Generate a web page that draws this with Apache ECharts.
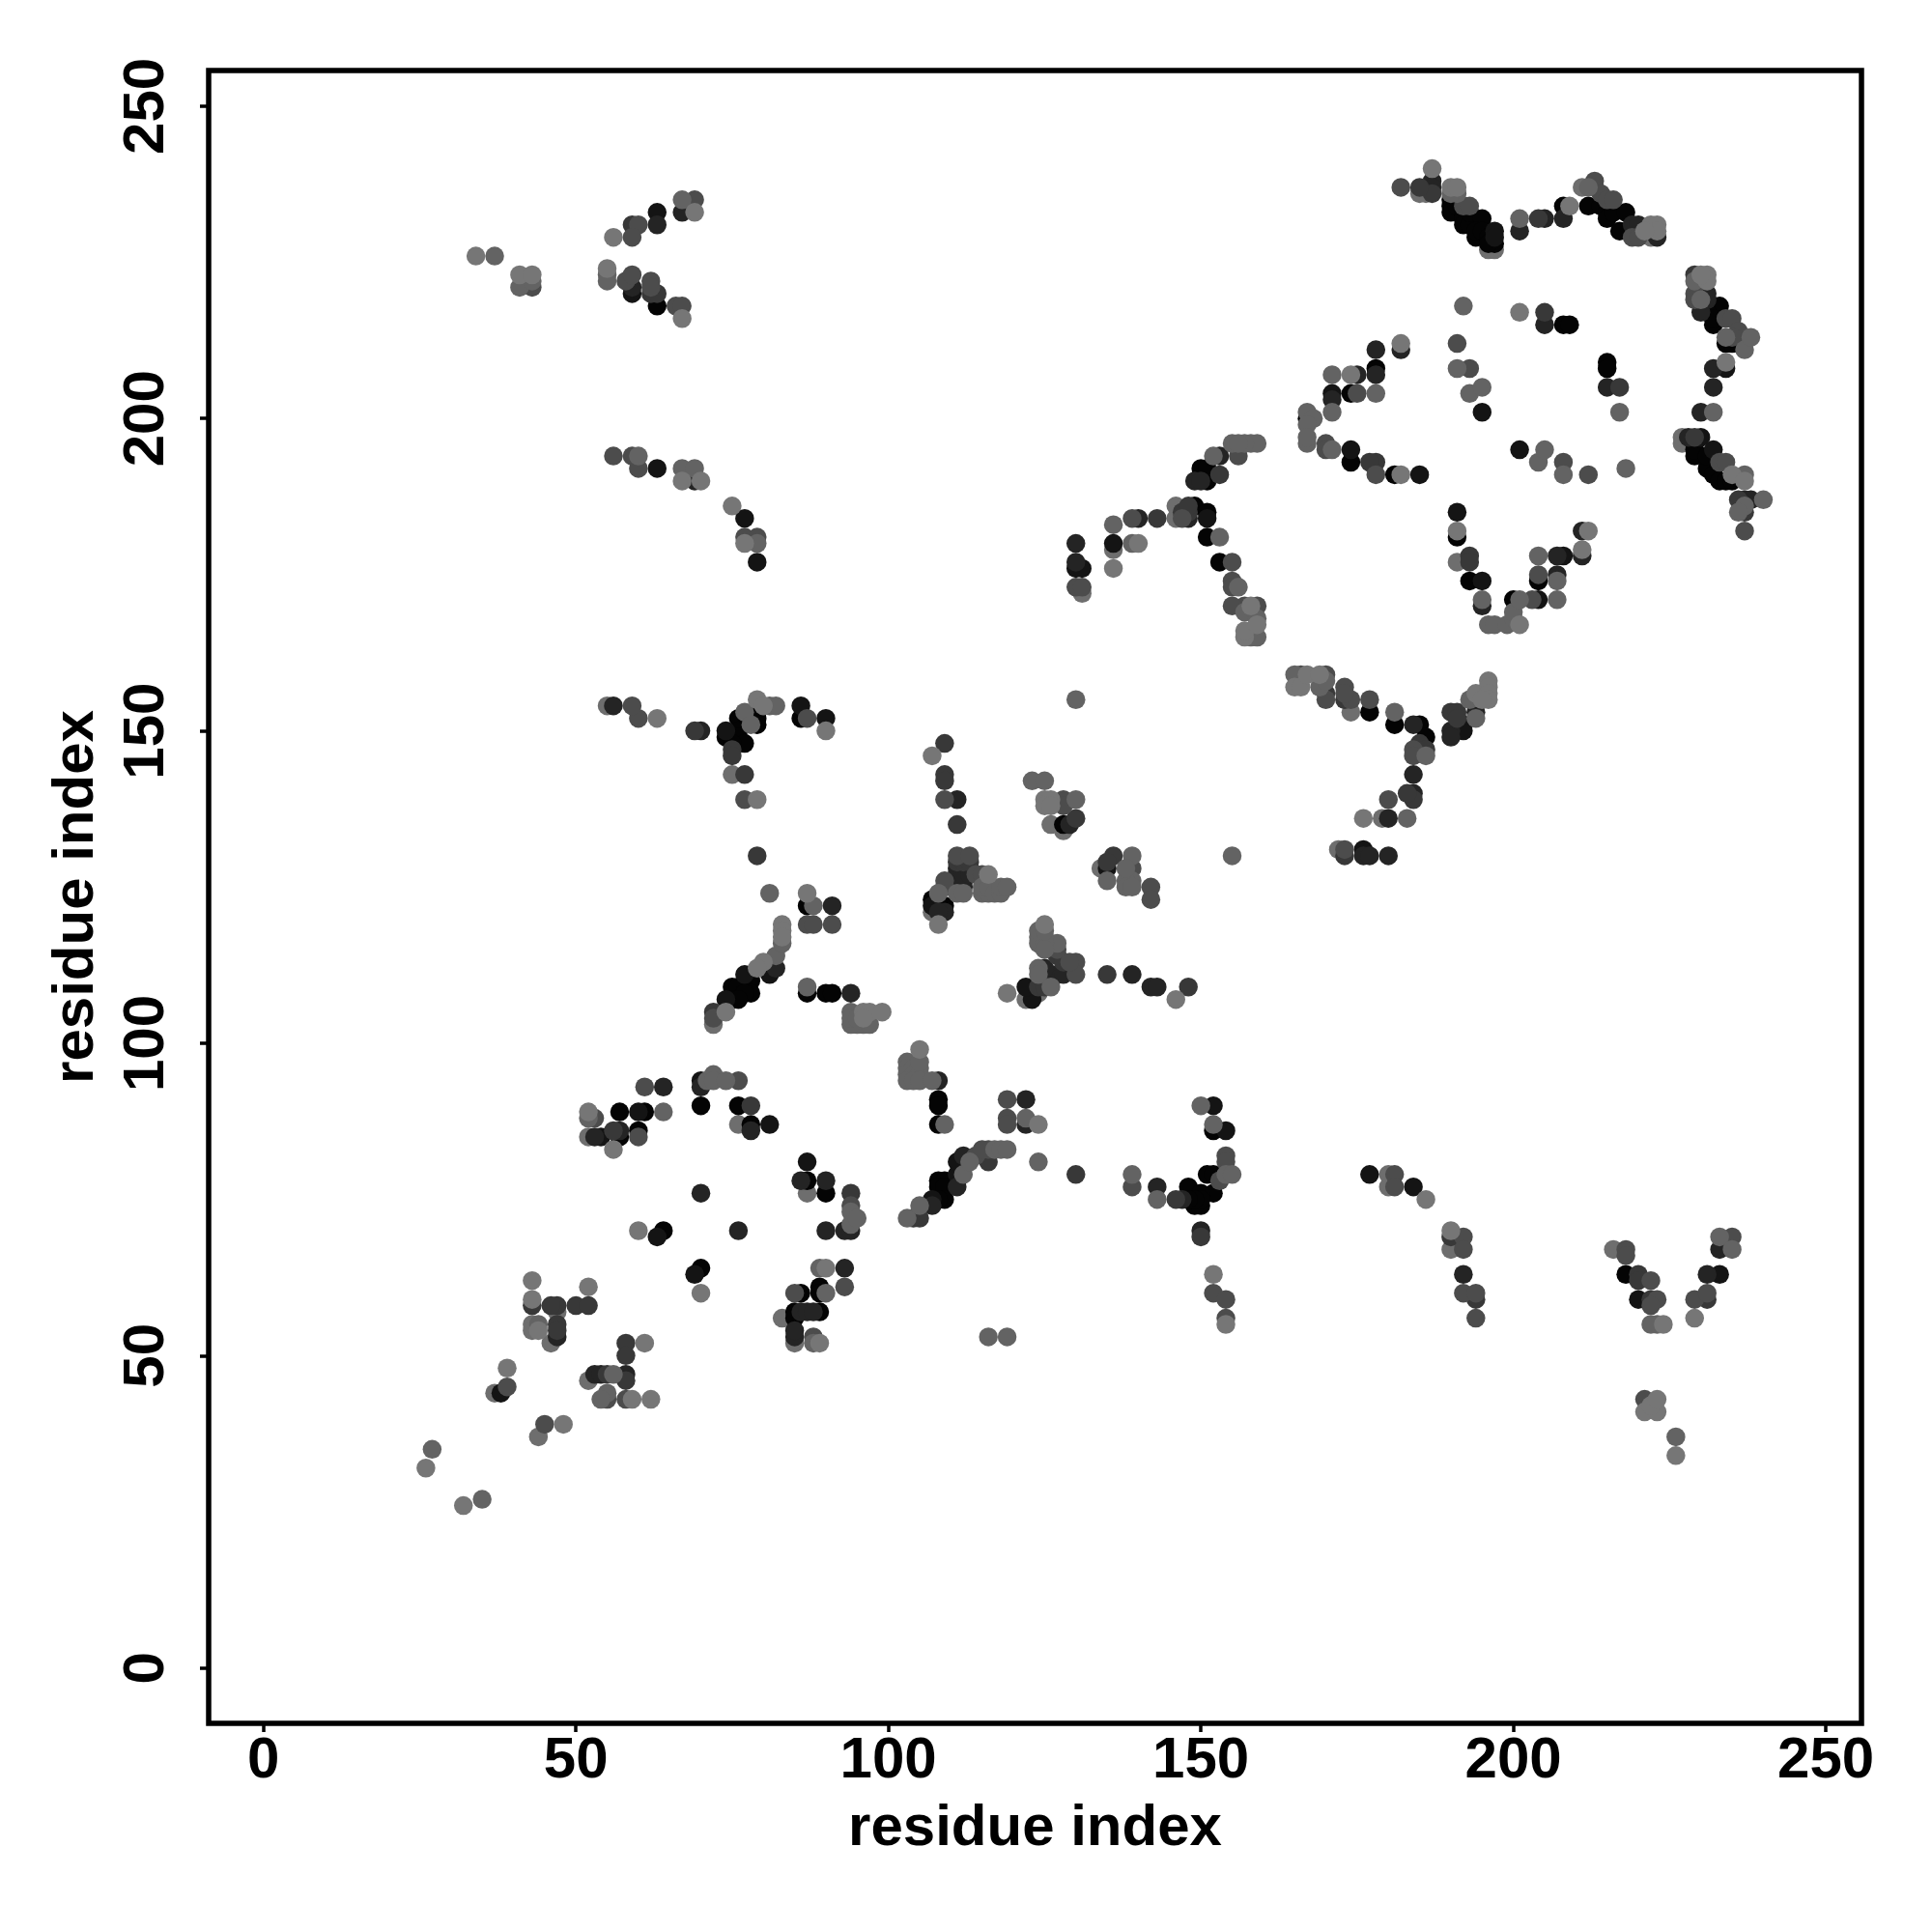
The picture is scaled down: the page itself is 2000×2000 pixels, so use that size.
<!DOCTYPE html>
<html><head><meta charset="utf-8">
<style>html,body{margin:0;padding:0;background:#fff}#c{width:2000px;height:2000px}</style>
<script src="https://cdn.jsdelivr.net/npm/echarts@6/dist/echarts.min.js"></script>
</head><body><div id="c"></div>
<script>
const tickValues=[0,50,100,150,200,250];
const axisTitle='residue index';
const underContacts=[[44,37],[37,44],[52,85],[52,46],[76,87],[55,154],[75,143],[47,57],[46,52],[85,52],[83,56],[87,76],[191,177],[134,128],[107,121],[126,135],[128,134],[124,108],[122,107],[172,131],[136,179],[131,172],[174,153],[146,186],[146,184],[185,236],[186,236],[196,227],[197,227],[222,229],[227,196],[227,197],[216,67],[180,77],[180,79],[179,136],[72,103],[43,55],[43,54],[211,237],[190,67]];
const blackContacts=[[64,70],[87,78],[90,76],[70,64],[89,61],[89,60],[86,60],[85,57],[89,57],[85,56],[78,87],[60,86],[57,85],[61,89],[57,89],[70,90],[76,90],[74,149],[75,149],[76,152],[76,150],[76,149],[77,148],[75,148],[79,153],[79,152],[79,151],[86,152],[87,122],[78,110],[75,109],[76,109],[78,108],[77,108],[75,107],[76,107],[87,108],[90,108],[91,108],[108,91],[108,90],[108,87],[107,123],[109,122],[108,122],[128,135],[151,79],[152,79],[152,76],[150,74],[149,74],[148,77],[150,76],[150,75],[149,75],[148,75],[108,78],[109,78],[108,77],[109,77],[109,75],[108,75],[152,86],[218,63],[174,193],[174,204],[149,186],[150,192],[151,185],[151,190],[151,192],[151,181],[153,177],[193,174],[191,181],[177,153],[181,151],[185,151],[186,149],[167,200],[178,208],[190,235],[190,234],[190,233],[191,234],[192,233],[192,232],[192,231],[193,231],[193,233],[195,232],[194,229],[194,230],[195,230],[196,229],[197,228],[196,228],[208,234],[212,234],[214,234],[215,233],[215,232],[216,233],[218,233],[217,230],[233,218],[231,217],[232,215],[232,216],[234,212],[235,212],[208,215],[209,215],[215,209],[215,208],[200,171],[204,174],[229,194],[229,195],[231,192],[232,191],[233,190],[234,190],[235,190],[231,194],[181,191],[63,218]];
const nearBlackContacts=[[38,44],[63,69],[69,63],[87,81],[81,87],[74,150],[90,152],[86,154],[74,107],[77,111],[81,111],[60,89],[54,85],[107,122],[111,79],[111,81],[107,75],[135,128],[123,107],[122,109],[154,86],[152,90],[177,79],[184,77],[233,63],[220,59],[185,191],[195,201],[191,185],[195,174],[201,195],[192,151],[192,150],[130,176],[131,176],[136,180],[151,184],[176,131],[197,230],[197,229],[230,197],[232,195],[234,208],[208,178],[204,171],[171,204],[174,195],[70,94],[59,220],[77,184],[79,177],[63,233],[63,192]];
const darkContacts=[[70,76],[76,70],[90,70],[93,70],[94,70],[86,78],[90,78],[93,64],[86,57],[87,57],[88,57],[85,53],[85,54],[47,53],[58,47],[53,47],[54,47],[57,86],[78,86],[53,85],[56,154],[70,150],[82,112],[91,122],[94,108],[108,94],[122,91],[122,87],[64,93],[70,93],[111,139],[130,180],[130,177],[139,111],[142,109],[143,109],[143,77],[147,75],[150,70],[112,82],[111,77],[107,74],[109,121],[108,121],[111,126],[112,126],[112,125],[125,111],[127,111],[128,111],[125,112],[192,63],[231,63],[233,67],[180,136],[176,130],[177,130],[180,130],[184,151],[184,140],[184,143],[190,150],[190,149],[194,153],[149,190],[150,190],[153,194],[140,184],[148,184],[187,238],[187,237],[205,232],[208,232],[201,230],[219,231],[220,231],[223,229],[231,220],[231,219],[230,217],[232,208],[232,205],[230,201],[205,215],[215,205],[211,182],[211,178],[207,178],[207,175],[178,207],[171,203],[175,207],[182,211],[178,211],[228,197],[195,170],[237,187],[238,187],[129,135],[59,221],[63,231],[67,233],[69,190],[111,128],[112,128],[113,128],[111,127],[112,127],[113,127]];
const deepContacts=[[47,55],[47,54],[58,52],[58,50],[58,46],[55,47],[50,58],[52,58],[47,58],[46,58],[43,58],[56,86],[78,90],[69,150],[75,147],[75,146],[77,143],[72,105],[79,130],[109,148],[109,143],[109,142],[111,135],[127,114],[128,113],[130,136],[136,130],[135,129],[124,109],[125,109],[135,111],[148,109],[146,75],[130,79],[104,72],[105,72],[116,81],[94,76],[220,63],[220,62],[222,59],[194,59],[190,69],[231,59],[150,69],[193,178],[193,177],[184,139],[183,140],[185,148],[186,147],[173,130],[173,155],[170,156],[143,184],[147,185],[148,185],[148,186],[153,191],[187,236],[185,237],[205,217],[217,205],[229,223],[229,197],[178,193],[177,193],[237,185],[236,187],[204,232],[59,231],[62,220],[63,220],[111,129],[112,129],[113,129],[190,153],[191,153],[191,152]];
const midContacts=[[45,39],[39,45],[93,61],[85,60],[88,53],[60,85],[58,43],[55,43],[53,88],[72,104],[60,152],[77,139],[87,119],[88,119],[119,88],[119,87],[109,139],[59,154],[87,152],[61,93],[76,94],[91,119],[94,74],[130,173],[131,173],[139,184],[147,184],[155,177],[155,174],[155,173],[157,170],[159,170],[155,170],[175,204],[170,196],[170,195],[178,191],[191,212],[193,208],[229,220],[229,219],[212,191],[182,237],[192,60],[194,60],[194,56],[192,69],[192,67],[218,67],[218,66],[222,62],[223,59],[229,59],[231,60],[222,58],[235,69],[221,43],[181,79],[181,77],[152,60],[154,59],[154,56],[116,83],[114,82],[115,83],[109,125],[109,126],[111,130],[113,130],[114,127],[115,127],[130,113],[130,111],[128,139],[128,138],[129,113],[127,115],[142,125],[142,123],[139,128],[139,77],[154,82],[154,81],[153,78],[177,155],[174,155],[173,157],[173,156],[170,155],[170,159],[166,159],[184,147],[184,146],[180,139],[173,131],[208,193],[204,175],[203,171],[237,182],[234,216],[235,216],[236,214],[237,213],[235,213],[192,234],[193,234],[213,238],[213,237],[214,236],[215,235],[216,235],[219,229],[220,229],[233,193],[234,193],[156,194],[119,91],[60,231],[59,229],[58,222],[59,223],[62,222],[62,221],[66,218],[67,218],[43,221],[69,235],[56,194],[59,194],[60,192],[77,181],[79,181]];
const greyContacts=[[27,35],[35,27],[81,124],[88,122],[81,154],[82,154],[77,153],[78,151],[82,114],[83,116],[123,142],[125,142],[130,139],[130,155],[155,130],[124,81],[109,87],[122,88],[139,126],[138,126],[138,125],[139,125],[139,130],[138,128],[135,126],[111,124],[112,124],[115,124],[116,124],[115,125],[116,125],[117,124],[118,124],[118,125],[119,125],[124,112],[124,111],[126,109],[127,116],[96,103],[95,103],[97,103],[94,103],[94,105],[94,104],[95,104],[103,97],[103,96],[104,96],[105,96],[103,95],[104,95],[105,95],[103,94],[104,94],[105,94],[105,97],[107,94],[108,124],[71,94],[72,95],[72,94],[74,94],[64,89],[87,109],[124,117],[125,117],[124,116],[125,116],[125,115],[124,118],[125,118],[103,72],[105,74],[112,79],[113,81],[117,83],[118,83],[119,83],[139,79],[143,75],[150,90],[152,87],[154,79],[155,79],[44,55],[55,44],[54,43],[56,47],[89,64],[90,60],[94,73],[94,71],[95,72],[88,52],[52,88],[116,53],[119,53],[192,218],[191,208],[193,204],[195,205],[204,178],[207,174],[207,171],[208,191],[218,192],[217,201],[232,201],[237,191],[237,186],[236,185],[240,187],[234,213],[237,211],[238,213],[230,219],[229,222],[226,37],[233,69],[235,67],[223,55],[222,55],[167,201],[168,200],[167,199],[171,201],[171,195],[165,159],[169,157],[170,158],[167,196],[167,197],[178,204],[171,207],[181,153],[183,136],[186,146],[193,155],[194,152],[195,171],[196,167],[197,167],[199,167],[200,168],[200,169],[157,169],[153,181],[156,173],[158,165],[159,168],[159,165],[158,196],[159,196],[157,196],[155,196],[156,196],[152,194],[201,232],[204,193],[205,195],[191,236],[190,236],[212,237],[136,183],[139,180],[37,226],[41,221],[43,222],[55,223],[55,222],[67,235],[60,194],[67,192],[69,192],[79,180],[201,171]];
const lightContacts=[[26,32],[32,26],[48,39],[39,48],[43,62],[43,59],[44,54],[52,61],[59,43],[62,43],[56,83],[60,70],[61,52],[70,60],[90,64],[89,52],[63,152],[79,139],[79,155],[80,154],[87,124],[83,119],[83,118],[83,117],[80,113],[79,112],[74,105],[96,105],[97,105],[99,105],[96,104],[105,99],[119,108],[124,87],[107,146],[108,119],[125,119],[125,139],[126,139],[125,138],[126,138],[116,127],[146,107],[152,63],[190,70],[186,75],[224,55],[154,55],[221,41],[223,41],[222,42],[223,43],[226,34],[229,56],[176,136],[158,170],[157,165],[157,166],[159,167],[165,157],[166,157],[167,159],[169,159],[194,156],[196,158],[196,157],[196,156],[196,155],[195,155],[182,212],[182,191],[174,207],[140,180],[136,176],[187,240],[190,237],[191,237],[201,217],[209,234],[201,167],[191,182],[212,182],[211,179],[222,231],[223,231],[223,230],[221,230],[231,223],[231,222],[230,223],[234,209],[235,191],[237,190],[90,150],[34,226],[41,223],[43,223],[55,224],[56,229],[69,233],[67,216],[67,190],[70,190],[75,186],[77,180],[52,89]];

const layers=[
 [underContacts,'#6e6e6e'],[blackContacts,'#040404'],[nearBlackContacts,'#141414'],
 [darkContacts,'#242424'],[deepContacts,'#383838'],[midContacts,'#4c4c4c'],
 [greyContacts,'#636363'],[lightContacts,'#767676']
];
const font='"Liberation Sans"';
const gridLeft=216,gridTop=73,gridSize=1711;
function axis(min,max,extra){
 return Object.assign({type:'value',min:min,max:max,name:axisTitle,nameLocation:'middle',
  nameTextStyle:{fontFamily:font,fontWeight:'bold',fontSize:60,color:'#000'},
  splitLine:{show:false},axisLine:{show:false,onZero:false}},extra);
}
const chart=echarts.init(document.getElementById('c'),null,{renderer:'canvas',width:2000,height:2000});
chart.setOption({
 animation:false,backgroundColor:'#fff',
 grid:{left:gridLeft,top:gridTop,width:gridSize,height:gridSize,show:true,borderColor:'#000',borderWidth:5.5,backgroundColor:'transparent'},
 xAxis:axis(-8.76,255.7,{nameGap:79,
  axisTick:{show:true,length:9,lineStyle:{width:3.5,color:'#000'},customValues:tickValues},
  axisLabel:{margin:9,fontFamily:font,fontWeight:'bold',fontSize:60,color:'#000',customValues:tickValues,hideOverlap:false,showMinLabel:true,showMaxLabel:true}}),
 yAxis:axis(-8.86,255.7,{nameGap:107,nameRotate:90,
  axisTick:{show:true,length:9,lineStyle:{width:3.5,color:'#000'},customValues:tickValues},
  axisLabel:{margin:34,rotate:90,fontFamily:font,fontWeight:'bold',fontSize:60,color:'#000',customValues:tickValues,hideOverlap:false,showMinLabel:true,showMaxLabel:true}}),
 series:layers.map(l=>({type:'scatter',data:l[0],symbol:'circle',symbolSize:19.5,silent:true,clip:false,large:false,
  itemStyle:{color:l[1],opacity:1,borderWidth:0}}))
});
</script></body></html>
